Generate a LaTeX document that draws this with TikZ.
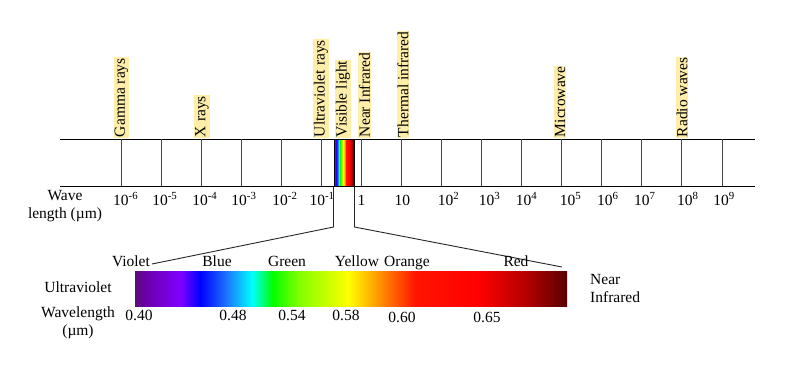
\documentclass[tikz,border=0pt]{standalone}
\usepackage{fontspec}
\setmainfont{Liberation Serif}
\usetikzlibrary{positioning}
\definecolor{labelyellow}{RGB}{254, 238, 170}
\definecolor{tickgray}{RGB}{70, 70, 70}
\definecolor{spA}{RGB}{92, 12, 120}
\definecolor{spB}{RGB}{106, 0, 168}
\definecolor{spC}{RGB}{128, 0, 255}
\definecolor{spD}{RGB}{0, 0, 255}
\definecolor{spE}{RGB}{30, 110, 255}
\definecolor{spF}{RGB}{0, 255, 255}
\definecolor{spG}{RGB}{0, 255, 0}
\definecolor{spH}{RGB}{128, 255, 0}
\definecolor{spI}{RGB}{255, 255, 0}
\definecolor{spJ}{RGB}{255, 150, 0}
\definecolor{spK}{RGB}{255, 20, 0}
\definecolor{spL}{RGB}{255, 0, 0}
\definecolor{spM}{RGB}{176, 0, 0}
\definecolor{spN}{RGB}{90, 0, 0}

\begin{document}
\begin{tikzpicture}[
    x=1pt, y=-1pt,
    font=\fontsize{15.5}{18}\selectfont,
    axis/.style={draw=black, line width=1pt},
    tick/.style={draw=tickgray, line width=1pt},
    band/.style={fill=labelyellow, rotate=90, anchor=west, inner sep=0.8pt},
    lbl/.style={inner sep=0pt, anchor=base},
    zoomline/.style={draw=black!85, line width=0.9pt}
]
    \useasboundingbox (0,0) rectangle (786,368);

    \draw[axis] (60,139) -- (755,139);
    \draw[axis] (60,186) -- (755,186);

    \foreach \xa/\ca/\xb/\cb in {135/spA/145/spB, 145/spB/180/spC, 180/spC/200/spD, 200/spD/225/spE,
        225/spE/252/spF, 252/spF/272/spG, 272/spG/298/spH, 298/spH/348/spI, 348/spI/378/spJ,
        378/spJ/415/spK, 415/spK/478/spL, 478/spL/528/spM, 528/spM/567/spN}{
        \shade[left color=\ca, right color=\cb] (\xa,271) rectangle ({min(\xb+0.6,567)},306);
        \shade[left color=\ca, right color=\cb] ({333.5+0.0463*(\xa-135)},139)
            rectangle ({333.5+0.0463*(min(\xb+0.6,567)-135)},186);
    }
    \node[draw=black, line width=1pt, inner sep=0pt, minimum width=20pt, minimum height=47pt,
        anchor=north west] (visible) at (333.5,139) {};
    \node[inner sep=0pt, minimum width=432pt, minimum height=35pt, anchor=north west]
        (spectrum) at (135,271) {};

    \coordinate (violetend) at (152,264);
    \coordinate (redend) at (562,267);
    \draw[zoomline] (visible.south west) -- ++(0,40) -- (violetend);
    \draw[zoomline] (visible.south east) -- ++(0,40) -- (redend);

    \foreach \lab/\dx [count=\i from 0] in {{10\textsuperscript{-6}}/-8, {10\textsuperscript{-5}}/-9,
        {10\textsuperscript{-4}}/-9, {10\textsuperscript{-3}}/-10, {10\textsuperscript{-2}}/-9,
        {10\textsuperscript{-1}}/-12, 1/-4, 10/-7, {10\textsuperscript{2}}/-4, {10\textsuperscript{3}}/-3,
        {10\textsuperscript{4}}/-6, {10\textsuperscript{5}}/-2, {10\textsuperscript{6}}/-5,
        {10\textsuperscript{7}}/-8, {10\textsuperscript{8}}/-5, {10\textsuperscript{9}}/-9}{
        \draw[tick] ({121+40.07*\i},139) -- ({121+40.07*\i},186);
        \node[lbl, anchor=base west] (t\i) at ({121+40.07*\i+\dx},205) {\lab};
    }

    \node[band] (gamma) at (121.5,138) {Gamma rays};
    \node[band] (xray) at (202,138) {X rays};
    \node[band] (uv) at (321,138) {Ultraviolet rays};
    \node[band] (vis) at (343,138) {Visible light};
    \node[band] (nir) at (364.5,138) {Near Infrared};
    \node[band] (tir) at (403,138) {Thermal infrared};
    \node[band] (micro) at (560,138) {Microwave};
    \node[band] (radio) at (682,138) {Radio waves};

    \node[lbl, align=center] (wavelbl) at (65,218) {Wave\\length (µm)};

    \node[lbl] (violet) at (131,266) {Violet};
    \node[lbl] (blue) at (217,266) {Blue};
    \node[lbl] (green) at (287,266) {Green};
    \node[lbl] (yellow) at (357,266) {Yellow};
    \node[lbl] (orange) at (407,266) {Orange};
    \node[lbl] (red) at (516,266) {Red};

    \node[lbl] (uvlbl) at (78,292) {Ultraviolet};
    \node[lbl, align=center] (wllbl) at (78,335) {Wavelength\\(µm)};
    \node[lbl, anchor=base west, align=left] (nirlbl) at (590,302) {Near\\Infrared};

    \node[lbl] (w40) at (139,320) {0.40};
    \node[lbl] (w48) at (233,320) {0.48};
    \node[lbl] (w54) at (292,320) {0.54};
    \node[lbl] (w58) at (346,320) {0.58};
    \node[lbl] (w60) at (402,322) {0.60};
    \node[lbl] (w65) at (487,322) {0.65};
\end{tikzpicture}
\end{document}
